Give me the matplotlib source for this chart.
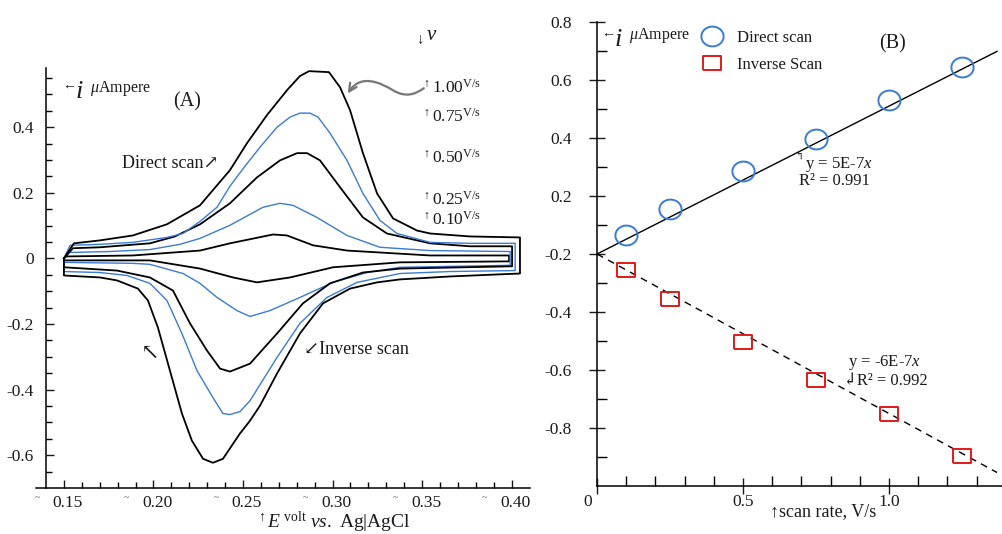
import numpy as np
import matplotlib
matplotlib.use('Agg')
from matplotlib import pyplot as plt
from matplotlib.path import Path
from matplotlib.patches import FancyArrowPatch
from matplotlib.transforms import ScaledTranslation

plt.rcParams['font.family'] = ['Liberation Serif', 'DejaVu Serif', 'DejaVu Sans']
plt.rcParams['mathtext.fontset'] = 'custom'
plt.rcParams['mathtext.rm'] = 'Liberation Serif'
plt.rcParams['mathtext.it'] = 'Liberation Serif:italic'
plt.rcParams['mathtext.fallback'] = 'stix'

# ---- panel A: cyclic voltammograms (E in V, i in uA) ----
scan_labels = ['0.10', '0.25', '0.50', '0.75', '1.00']

e_up_010 = [0.150, 0.1511, 0.1885, 0.2260, 0.2427, 0.2668, 0.2746, 0.2891, 0.3081, 0.3545, 0.3986]
i_up_010 = [0.000, 0.006, 0.009, 0.024, 0.046, 0.073, 0.070, 0.040, 0.024, 0.009, 0.009]
e_dn_010 = [0.150, 0.1980, 0.2260, 0.2444, 0.2578, 0.2763, 0.3003, 0.3377, 0.3986]
i_dn_010 = [-0.006, -0.006, -0.031, -0.058, -0.073, -0.058, -0.027, -0.012, -0.009]

e_up_025 = [0.150, 0.1517, 0.1757, 0.1980, 0.2148, 0.2260, 0.2427, 0.2612, 0.2707, 0.2779,
            0.2913, 0.3081, 0.3265, 0.3545, 0.3992]
i_up_025 = [0.000, 0.018, 0.021, 0.027, 0.043, 0.061, 0.101, 0.156, 0.168, 0.162,
            0.125, 0.070, 0.034, 0.024, 0.021]
e_dn_025 = [0.150, 0.1885, 0.1980, 0.2165, 0.2260, 0.2355, 0.2466, 0.2539, 0.2651, 0.2818,
            0.3003, 0.3193, 0.3377, 0.3992]
i_dn_025 = [-0.012, -0.015, -0.018, -0.046, -0.076, -0.119, -0.159, -0.177, -0.159, -0.119,
            -0.073, -0.043, -0.027, -0.021]

e_up_050 = [0.150, 0.1550, 0.1701, 0.1980, 0.2120, 0.2260, 0.2427, 0.2578, 0.2707, 0.2802,
            0.2858, 0.2930, 0.3042, 0.3170, 0.3304, 0.3545, 0.3768, 0.4003]
i_up_050 = [0.000, 0.031, 0.034, 0.046, 0.067, 0.104, 0.168, 0.247, 0.299, 0.321,
            0.321, 0.299, 0.217, 0.125, 0.076, 0.046, 0.037, 0.037]
e_dn_050 = [0.150, 0.1796, 0.1980, 0.2109, 0.2204, 0.2299, 0.2372, 0.2427, 0.2539, 0.2690,
            0.2835, 0.2986, 0.3170, 0.3377, 0.4003]
i_dn_050 = [-0.027, -0.037, -0.058, -0.098, -0.198, -0.281, -0.336, -0.345, -0.321, -0.229,
            -0.137, -0.076, -0.043, -0.031, -0.024]

e_up_075 = [0.150, 0.1534, 0.1701, 0.1885, 0.2075, 0.2165, 0.2260, 0.2355, 0.2427, 0.2511,
            0.2595, 0.2690, 0.2763, 0.2818, 0.2874, 0.2919, 0.2986, 0.3081, 0.3170, 0.3265,
            0.3360, 0.3545, 0.3768, 0.4020]
i_up_075 = [0.000, 0.040, 0.043, 0.049, 0.064, 0.076, 0.113, 0.156, 0.220, 0.281,
            0.339, 0.400, 0.431, 0.443, 0.443, 0.431, 0.382, 0.299, 0.198, 0.116,
            0.076, 0.049, 0.046, 0.046]
e_dn_075 = [0.150, 0.1701, 0.1852, 0.1980, 0.2075, 0.2159, 0.2243, 0.2332, 0.2388, 0.2427,
            0.2483, 0.2539, 0.2690, 0.2818, 0.2969, 0.3137, 0.3377, 0.3656, 0.4020]
i_dn_075 = [-0.040, -0.043, -0.052, -0.076, -0.128, -0.229, -0.342, -0.424, -0.473, -0.476,
            -0.467, -0.434, -0.302, -0.198, -0.119, -0.073, -0.046, -0.040, -0.037]

e_up_100 = [0.150, 0.1556, 0.1701, 0.1885, 0.2075, 0.2260, 0.2427, 0.2522, 0.2634, 0.2746,
            0.2818, 0.2869, 0.2980, 0.3042, 0.3098, 0.3170, 0.3249, 0.3338, 0.3472, 0.3545,
            0.3768, 0.4047]
i_up_100 = [0.000, 0.046, 0.055, 0.070, 0.104, 0.162, 0.269, 0.351, 0.437, 0.513,
            0.556, 0.571, 0.568, 0.522, 0.452, 0.321, 0.198, 0.122, 0.085, 0.076,
            0.067, 0.064]
e_dn_100 = [0.150, 0.1701, 0.1796, 0.1913, 0.1969, 0.2025, 0.2092, 0.2159, 0.2215, 0.2277,
            0.2332, 0.2388, 0.2483, 0.2539, 0.2595, 0.2690, 0.2818, 0.2947, 0.3098, 0.3249,
            0.3377, 0.3656, 0.4047]
i_dn_100 = [-0.052, -0.058, -0.067, -0.092, -0.128, -0.211, -0.342, -0.473, -0.556, -0.611,
            -0.623, -0.611, -0.534, -0.495, -0.449, -0.351, -0.229, -0.137, -0.092, -0.073,
            -0.064, -0.055, -0.046]

# ---- panel B: peak current vs scan rate ----
scan_rate = [0.10, 0.25, 0.50, 0.75, 1.00, 1.25]
ip_direct = [0.066, 0.155, 0.286, 0.397, 0.531, 0.645]
ip_inverse = [-0.055, -0.155, -0.303, -0.434, -0.552, -0.697]
fit_slope_direct = 0.51
fit_slope_inverse = -0.55
fit_range = [0.0, 1.37]
b_yticks = [-0.6, -0.4, -0.2, 0.0, 0.2, 0.4, 0.6, 0.8]
b_ytick_labels = ['-0.8', '-0.6', '-0.4', '-0.2', '0.2', '0.4', '0.6', '0.8']

W, H = 1003, 534
BLUE = '#3a7bd5'
TXT = '#1a1a1a'


def px(x, y):
    # pixel position -> figure fraction
    return x / W, 1 - y / H


def current_label(x0, y0):
    # "<- i  uAmpere" axis label
    fig.text(*px(x0, y0 - 5), '\u2190', fontsize=10, va='center', color=TXT)
    fig.text(*px(x0 + 13, y0 + 2), r'$\mathit{i}$', fontsize=19, va='center', color=TXT)
    fig.text(*px(x0 + 28, y0 - 2), r'$\mu$Ampere', fontsize=11.5, va='center', color=TXT)


fig = plt.figure(figsize=(W / 100, H / 100), dpi=100)

# ================= panel A =================
axA = fig.add_axes([36 / W, 1 - 488 / H, (530 - 36) / W, (488 - 60) / H])
axA.set_xlim(0.1344, 0.4103)
axA.set_ylim(-0.7, 0.605)

loops = [(e_up_010, i_up_010, e_dn_010, i_dn_010),
         (e_up_025, i_up_025, e_dn_025, i_dn_025),
         (e_up_050, i_up_050, e_dn_050, i_dn_050),
         (e_up_075, i_up_075, e_dn_075, i_dn_075),
         (e_up_100, i_up_100, e_dn_100, i_dn_100)]
for k, (eu, iu, ed, idn) in enumerate(loops):
    E = eu + ed[::-1] + [eu[0]]
    I = iu + idn[::-1] + [iu[0]]
    col = BLUE if k % 2 else 'black'
    axA.plot(E, I, color=col, lw=1.0 if k % 2 else 1.3, solid_joinstyle='round')

for s in ['top', 'right']:
    axA.spines[s].set_visible(False)
axA.spines['left'].set_position(('data', 0.14))
axA.spines['left'].set_bounds(-0.7, 0.58)
axA.spines['bottom'].set_linewidth(1.1)
axA.spines['left'].set_linewidth(1.1)

axA.set_xticks(np.arange(0.15, 0.401, 0.05))
axA.set_xticklabels(['0.15', '0.20', '0.25', '0.30', '0.35', '0.40'])
axA.set_xticks(np.arange(0.15, 0.405, 0.01), minor=True)
axA.set_yticks([-0.6, -0.4, -0.2, 0, 0.2, 0.4])
axA.set_yticklabels(['-0.6', '-0.4', '-0.2', '0', '0.2', '0.4'])
axA.set_yticks(np.arange(-0.65, 0.56, 0.05), minor=True)
axA.tick_params(which='major', direction='in', length=6, width=1, labelsize=12.5,
                colors=TXT)
axA.tick_params(which='minor', direction='in', length=4, width=1)
axA.tick_params(axis='x', which='major', pad=5)
axA.tick_params(axis='y', which='major', pad=9)
for lab in axA.get_xticklabels():
    lab.set_transform(lab.get_transform() + ScaledTranslation(0.04, 0, fig.dpi_scale_trans))

# small tilde marks under the axis
for xt in np.arange(0.135, 0.39, 0.05):
    axA.text(xt, -0.715, '~', ha='center', va='top', fontsize=7, color='#555',
             clip_on=False)

current_label(62, 90)
fig.text(*px(187, 102), '(A)', fontsize=14.5, ha='center', va='center', color=TXT)
fig.text(*px(122, 163), 'Direct scan\u2197', fontsize=13, va='center', color=TXT)
fig.text(*px(150, 354), '\u2196', fontsize=16, ha='center', va='center', color=TXT)
fig.text(*px(304, 350), '\u2199Inverse scan', fontsize=13, va='center', color=TXT)
fig.text(*px(414, 37), r'$_{\downarrow}\mathit{v}$', fontsize=15, va='center', color=TXT)

rate_y = [220, 200, 158, 117, 88]
for lab, yy in zip(scan_labels, rate_y):
    fig.text(*px(422, yy), r'$^{\uparrow}$' + lab + r'$^{\rm V/s}$', fontsize=12.5,
             va='center', color=TXT)

# grey wavy pointer to the 1.00 V/s curve
wave = Path([(0.3510, 0.519), (0.346, 0.500), (0.341, 0.490), (0.334, 0.512),
             (0.327, 0.535), (0.316, 0.565), (0.3085, 0.503)],
            [Path.MOVETO, Path.CURVE4, Path.CURVE4, Path.CURVE4,
             Path.CURVE4, Path.CURVE4, Path.CURVE4])
axA.add_patch(FancyArrowPatch(path=wave, arrowstyle='->', mutation_scale=14,
                              color='#777777', lw=1.6, clip_on=False))

fig.text(*px(333, 522), r'$^{\uparrow}\mathit{E}^{\ \rm volt}\ \mathit{vs.}$ Ag|AgCl',
         fontsize=14, ha='center', va='center', color=TXT)

# ================= panel B =================
axB = fig.add_axes([597 / W, 1 - 486 / H, (1002 - 597) / W, (486 - 22) / H])
axB.set_xlim(0, 1.387)
axB.set_ylim(-0.8, 0.8)

fx = np.array(fit_range)
axB.plot(fx, fit_slope_direct * fx, color='black', lw=1.0)
axB.plot(fx, fit_slope_inverse * fx, color='black', lw=1.0, dashes=(5, 4))

th = np.linspace(0, 2 * np.pi, 60)
ellipse = np.column_stack([1.12 * np.cos(th), np.sin(th)])
rect = [(-1.25, -1), (1.25, -1), (1.25, 1), (-1.25, 1), (-1.25, -1)]
axB.plot(scan_rate, ip_direct, ls='none', marker=ellipse, ms=16, mfc='none',
         mec=BLUE, mew=1.4, label='Direct scan')
axB.plot(scan_rate, ip_inverse, ls='none', marker=rect, ms=13, mfc='none',
         mec='#e01a1a', mew=1.4, label='Inverse Scan')

leg = axB.legend(loc='upper left', bbox_to_anchor=px(690, 22), bbox_transform=fig.transFigure,
                 frameon=False, fontsize=12, handlelength=1.6, handletextpad=0.7,
                 labelspacing=0.65, borderpad=0)
for t in leg.get_texts():
    t.set_color(TXT)

for s in ['top', 'right']:
    axB.spines[s].set_visible(False)
axB.spines['bottom'].set_linewidth(1.1)
axB.spines['left'].set_linewidth(1.1)

axB.set_xticks([0, 0.5, 1.0])
axB.set_xticklabels(['0', '0.5', '1.0'])
axB.set_xticks([0.1, 0.2, 0.3, 0.4, 0.6, 0.7, 0.8, 0.9, 1.1, 1.2, 1.3], minor=True)
axB.set_yticks(b_yticks)
axB.set_yticklabels(b_ytick_labels)
axB.set_yticks(np.arange(-0.7, 0.71, 0.2), minor=True)
axB.tick_params(which='major', direction='inout', length=12, width=1, labelsize=12.5,
                colors=TXT)
axB.tick_params(which='minor', direction='in', length=7, width=1)
axB.tick_params(axis='y', which='major', pad=12)
axB.tick_params(axis='x', which='major', pad=0)
zero_lab = axB.get_xticklabels()[0]
zero_lab.set_transform(zero_lab.get_transform()
                       + ScaledTranslation(-0.09, 0, fig.dpi_scale_trans))

current_label(601, 38)
fig.text(*px(893, 44), '(B)', fontsize=14.5, ha='center', va='center', color=TXT)
fig.text(*px(794, 157), '\u21b0', fontsize=8, va='center', color=TXT)
fig.text(*px(805, 164), 'y = 5E-7$x$', fontsize=12, va='center', color=TXT)
fig.text(*px(799, 181), 'R\u00b2 = 0.991', fontsize=12, va='center', color=TXT)
fig.text(*px(848, 363), 'y = -6E-7$x$', fontsize=12, va='center', color=TXT)
fig.text(*px(843, 381), '\u21b2R\u00b2 = 0.992', fontsize=12, va='center', color=TXT)
fig.text(*px(823, 512), '\u2191scan rate, V/s', fontsize=13, ha='center', va='center',
         color=TXT)

fig.savefig('out.png', dpi=100)
